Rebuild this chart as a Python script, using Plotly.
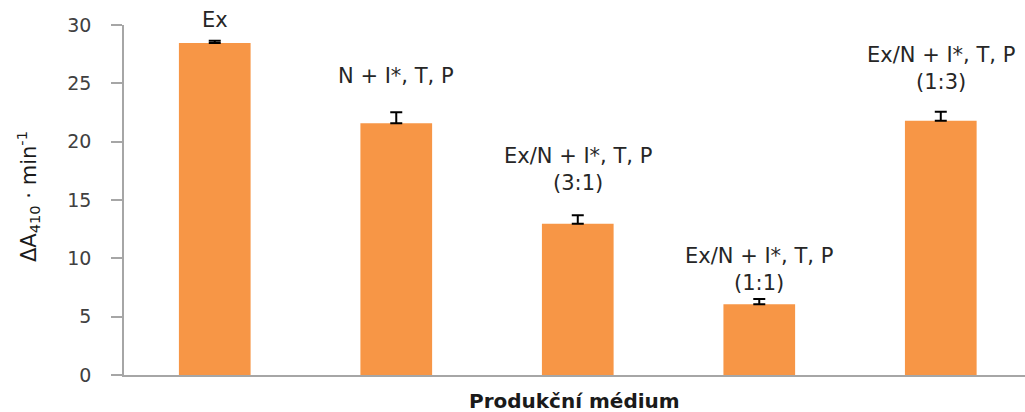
import plotly.graph_objects as go

# Production media, measured activity and standard deviation
media = ["Ex", "N + I*, T, P", "Ex/N + I*, T, P<br>(3:1)",
         "Ex/N + I*, T, P<br>(1:1)", "Ex/N + I*, T, P<br>(1:3)"]
activity = [28.45, 21.57, 12.97, 6.06, 21.8]
std_dev = [0.2, 0.95, 0.72, 0.45, 0.77]

y_ticks = [0, 5, 10, 15, 20, 25, 30]

# pixel lift of each medium label above its bar top
label_lift = [23, 47, 54, 35, 52]

text_col = "#404040"
label_col = "#262626"
font_family = "DejaVu Sans, Verdana, sans-serif"

x_pos = list(range(len(media)))

fig = go.Figure()
fig.add_trace(go.Bar(
    x=x_pos,
    y=activity,
    width=0.395,
    marker=dict(color="#F79646", line=dict(width=0)),
    error_y=dict(type="data", array=std_dev, arrayminus=[0] * len(std_dev),
                 symmetric=False, color="black", thickness=2, width=6),
    showlegend=False,
    hoverinfo="skip",
))

annotations = []
for xi, name, val, lift in zip(x_pos, media, activity, label_lift):
    annotations.append(dict(
        x=xi, y=val, xref="x", yref="y", text=name, showarrow=False,
        yshift=lift, yanchor="middle", align="center",
        font=dict(family=font_family, size=21, color=label_col),
    ))

# axis titles
annotations.append(dict(
    x=-0.107, y=0.51, xref="paper", yref="paper",
    text="ΔA<sub>410</sub> · min<sup>-1</sup>",
    showarrow=False, textangle=-90, xanchor="center", yanchor="middle",
    font=dict(family=font_family, size=21, color="#1a1a1a"),
))
annotations.append(dict(
    x=0.5, y=-0.034, xref="paper", yref="paper", text="<b>Produkční médium</b>",
    showarrow=False, xanchor="center", yanchor="top",
    font=dict(family=font_family, size=20, color="#1a1a1a"),
))

fig.update_layout(
    width=1025, height=412,
    margin=dict(l=124, r=0, t=25, b=37),
    paper_bgcolor="white", plot_bgcolor="white",
    annotations=annotations,
    xaxis=dict(range=[-0.5, 4.464], showticklabels=False, ticks="",
               showgrid=False, zeroline=False, showline=True,
               linecolor="#A6A6A6", linewidth=1.5, fixedrange=True),
    yaxis=dict(range=[0, 30], tickvals=y_ticks, ticks="outside", ticklen=11,
               tickcolor="#A6A6A6", tickwidth=1.5, showgrid=False, zeroline=False,
               showline=True, linecolor="#A6A6A6", linewidth=1.5,
               tickfont=dict(family=font_family, size=19, color=text_col),
               ticklabelstandoff=16, fixedrange=True),
)

fig.write_html("out.html")
